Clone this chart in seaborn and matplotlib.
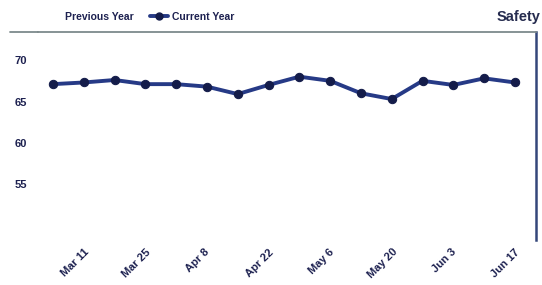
import matplotlib
matplotlib.use("Agg")
import matplotlib.pyplot as plt
import matplotlib.transforms as mtransforms
from matplotlib.lines import Line2D
import seaborn as sns
import pandas as pd

# weekly values, current year (Mar 4 - Jun 17)
weeks = ["2018-03-04", "2018-03-11", "2018-03-18", "2018-03-25", "2018-04-01",
         "2018-04-08", "2018-04-15", "2018-04-22", "2018-04-29", "2018-05-06",
         "2018-05-13", "2018-05-20", "2018-05-27", "2018-06-03", "2018-06-10",
         "2018-06-17"]
current_year = [67.1, 67.3, 67.6, 67.1, 67.1, 66.8, 65.9, 67.0,
                68.0, 67.5, 66.0, 65.3, 67.5, 67.0, 67.8, 67.3]
tick_dates = ["2018-03-11", "2018-03-25", "2018-04-08", "2018-04-22",
              "2018-05-06", "2018-05-20", "2018-06-03", "2018-06-17"]
tick_labels = ["Mar 11", "Mar 25", "Apr 8", "Apr 22", "May 6", "May 20", "Jun 3", "Jun 17"]
y_ticks = [55, 60, 65, 70]

df = pd.DataFrame({"week": pd.to_datetime(weeks), "value": current_year})

sns.set_style("white")
plt.rcParams["font.family"] = ["Liberation Sans Narrow", "Liberation Sans", "DejaVu Sans"]
line_c = "#263a86"
marker_c = "#141c4a"
text_c = "#1d2150"

fig = plt.figure(figsize=(5.42, 2.85), dpi=100)
ax = fig.add_axes([0.070, 0.158, 0.919, 0.730])

sns.lineplot(data=df, x="week", y="value", ax=ax, color=line_c, linewidth=2.8,
             marker="o", markersize=6, markeredgecolor=marker_c,
             markerfacecolor=marker_c)

ax.set_xlim(pd.Timestamp("2018-03-04") - pd.Timedelta(days=3.4),
            pd.Timestamp("2018-06-17") + pd.Timedelta(days=4.8))
ax.set_ylim(48.3, 73.4)
ax.set_yticks(y_ticks)
ax.set_yticklabels([str(v) for v in y_ticks], fontsize=8, fontweight="bold", color=text_c)
ax.set_xticks(pd.to_datetime(tick_dates))
ax.set_xticklabels(tick_labels, rotation=45, ha="center", fontsize=8,
                   fontweight="bold", color=text_c)
ax.tick_params(axis="x", length=0, pad=5)
ax.tick_params(axis="y", length=0, pad=8)
shift = mtransforms.ScaledTranslation(-9 / 100, 0, fig.dpi_scale_trans)
for lab in ax.get_xticklabels():
    lab.set_transform(lab.get_transform() + shift)
ax.set_xlabel("")
ax.set_ylabel("")

for s in ["left", "bottom"]:
    ax.spines[s].set_visible(False)
ax.spines["top"].set_color("#7d8a8c")
ax.spines["top"].set_linewidth(1.3)
ax.spines["right"].set_color("#34477a")
ax.spines["right"].set_linewidth(1.8)
fig.add_artist(Line2D([10 / 542, 0.070], [0.888, 0.888], color="#7d8a8c", linewidth=1.3))

handles = [Line2D([], [], color="none"),
           Line2D([], [], color=line_c, linewidth=2.8, marker="o", markersize=5,
                  markerfacecolor=marker_c, markeredgecolor=marker_c)]
fig.legend(handles, ["Previous Year", "Current Year"], loc="center left",
           bbox_to_anchor=(0.062, 0.94), ncol=2, frameon=False, handlelength=1.7,
           handletextpad=0.4, columnspacing=1.6, prop={"size": 7.5, "weight": "bold"},
           labelcolor=text_c)
fig.text(0.998, 0.94, "Safety", ha="right", va="center", fontsize=10.5,
         fontweight="bold", color="#262c4f")

fig.savefig("out.png", dpi=100)
